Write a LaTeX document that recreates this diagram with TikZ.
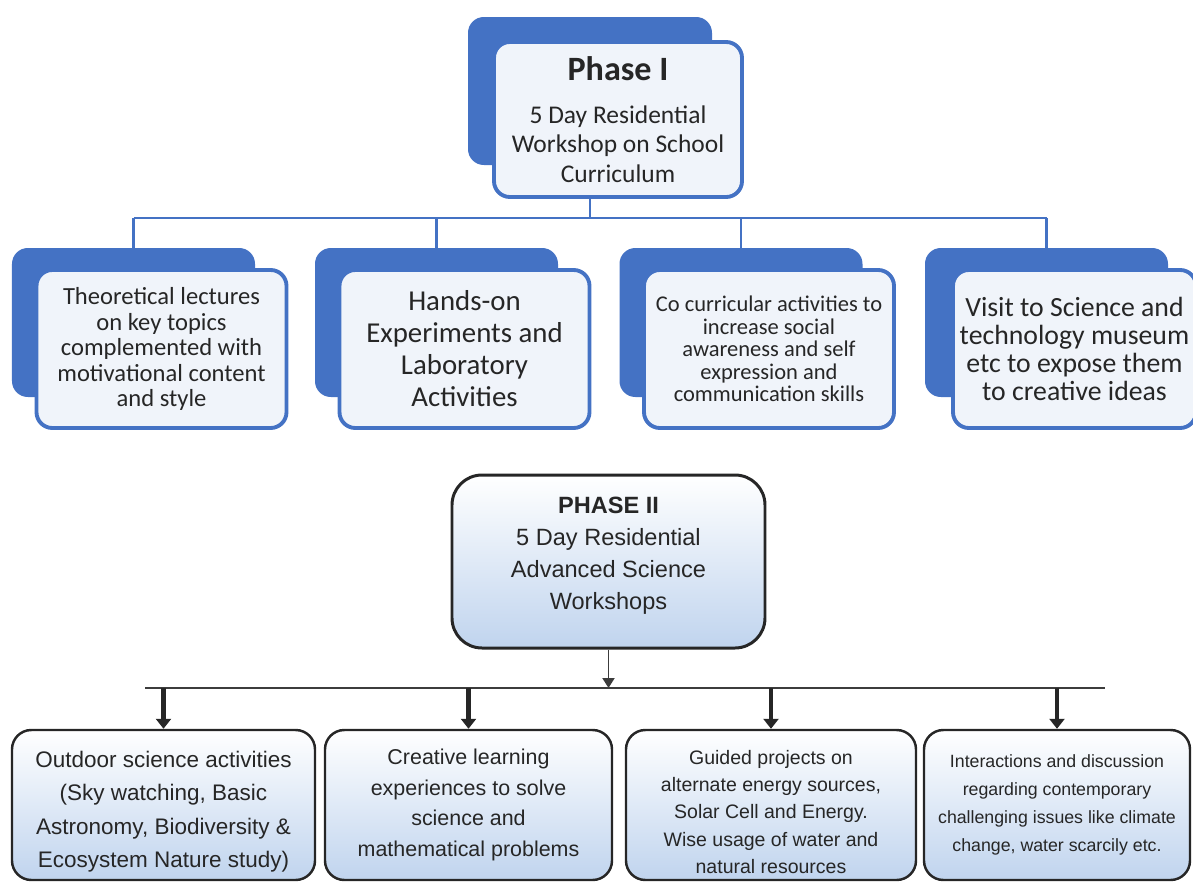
\documentclass[tikz,border=0pt]{standalone}
\usepackage{fontspec}
\setmainfont{Carlito}
\newfontfamily\arialfont{Liberation Sans}
\usetikzlibrary{arrows.meta,positioning,calc}
\definecolor{office}{RGB}{68,114,196}
\definecolor{paleblue}{RGB}{240,244,250}
\definecolor{skyblue}{RGB}{192,212,238}
\definecolor{ink}{RGB}{38,38,38}
\tikzset{
  >={Triangle[length=2mm,width=2.4mm]},
  back/.style={fill=office,rounded corners=9pt,minimum width=#1,minimum height=2.98cm},
  back/.default=4.86cm,
  front/.style={draw=office,line width=2.2pt,fill=paleblue,rounded corners=9pt,
    minimum width=#1,minimum height=3.16cm,align=center,text=ink},
  front/.default=5cm,
  bus/.style={draw=office,line width=1.7pt},
  leaf/.style={draw=ink,line width=1.4pt,rounded corners=11pt,top color=white,bottom color=skyblue,
    minimum height=3cm,align=center,text=ink,font=\arialfont},
  thin bus/.style={draw=ink!90,line width=1.1pt},
  drop/.style={-{Triangle[length=2mm,width=3mm]},line width=2.8pt,draw=ink},
}

\begin{document}
\begin{tikzpicture}
  \useasboundingbox (0,0) rectangle (23.86,-17.66);
  % phase one
  \node[back=4.88cm,minimum height=2.96cm] (P1b) at (11.8,-1.82) {};
  \node[front=4.96cm,minimum height=3.1cm,font={\fontsize{14.5}{16.6}\selectfont}] (P1f) at (12.36,-2.39)
    {{\fontsize{19.4}{20}\selectfont\bfseries Phase I}\\[8pt]
     5 Day Residential\\Workshop on School\\Curriculum};
  \coordinate (bus) at (2.5,-4.36);
  \draw[bus] (P1b.center |- P1f.south) -- (P1b.center |- bus);
  \foreach \n/\x/\w/\s/\b/\t in {
      1/2.67/5cm/14/14.5/{Theoretical lectures\\on key topics\\complemented with\\motivational content\\and style},
      2/8.73/5cm/16.4/18.2/{Hands-on\\Experiments and\\Laboratory\\Activities},
      3/14.82/5cm/12.8/12.8/{Co curricular activities to\\increase social\\awareness and self\\expression and\\communication skills},
      4/20.93/4.86cm/15.8/16/{Visit to Science and\\technology museum\\etc to expose them\\to creative ideas}}{
    \node[back] (B\n) at (\x,-6.45) {};
    \node[front=\w,font={\fontsize{\s}{\b}\selectfont}] (F\n) at ($(B\n)+(0.56,-0.53)$) {\t};
    \draw[bus] (B\n.north |- bus) -- (B\n.north);
  }
  \draw[bus] (B1.north |- bus) -- (B4.north |- bus);
  % phase two
  \node[leaf,line width=1.7pt,rounded corners=0.6cm,minimum width=6.26cm,minimum height=3.46cm,
    font=\arialfont\fontsize{13.4}{18.2}\selectfont] (P2) at (12.17,-11.23)
    {\textbf{PHASE II}\\5 Day Residential\\Advanced Science\\Workshops\rule[-9.6pt]{0pt}{0pt}};
  \coordinate (b2L) at (2.9,-13.76);
  \coordinate (b2R) at (22.1,-13.76);
  \draw[thin bus] (b2L) -- (b2R);
  \draw[thin bus,->] (P2.south) -- (P2.south |- b2L);
  \foreach \n/\x/\w/\s/\b/\t in {
      1/3.27/6.06cm/12.8/19/{\rule{0pt}{17pt}Outdoor science activities\\(Sky watching, Basic\\Astronomy, Biodiversity \&\\Ecosystem Nature study)},
      2/9.37/5.74cm/12.2/17.5/{Creative learning\\experiences to solve\\science and\\mathematical problems},
      3/15.42/5.8cm/11.1/15.4/{\rule{0pt}{16pt}Guided projects on\\alternate energy sources,\\Solar Cell and Energy.\\Wise usage of water and\\natural resources},
      4/21.14/5.32cm/10.1/16/{Interactions and discussion\\regarding contemporary\\challenging issues like climate\\change, water scarcily etc.}}{
    \node[leaf,minimum width=\w,font=\arialfont\fontsize{\s}{\b}\selectfont] (L\n) at (\x,-16.1) {\t};
    \draw[drop] (L\n.north |- b2L) -- (L\n.north);
  }
\end{tikzpicture}
\end{document}
